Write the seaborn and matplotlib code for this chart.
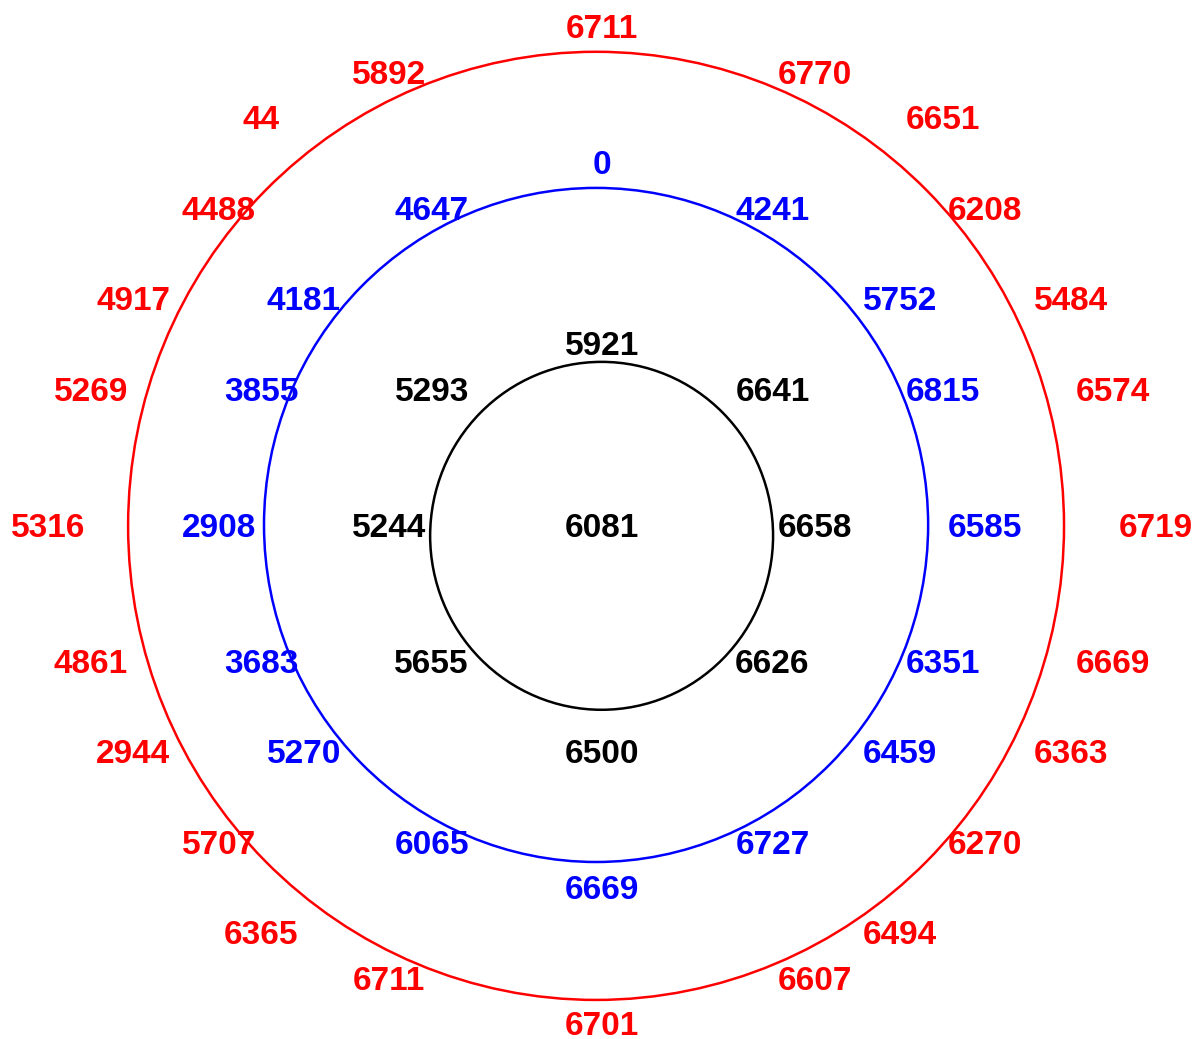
import numpy as np
import pandas as pd
import matplotlib
matplotlib.use('Agg')
import matplotlib.pyplot as plt
from matplotlib.colors import ListedColormap
from matplotlib.patches import Ellipse
import seaborn as sns

# values of each ring, clockwise from the top
center_value = [6081]
inner_values = [5921, 6641, 6658, 6626, 6500, 5655, 5244, 5293]
middle_values = [0, 4241, 5752, 6815, 6585, 6351, 6459, 6727,
                 6669, 6065, 5270, 3683, 2908, 3855, 4181, 4647]
outer_values = [6711, 6770, 6651, 6208, 5484, 6574, 6719, 6669,
                6363, 6270, 6494, 6607, 6701, 6711, 6365, 5707,
                2944, 4861, 5316, 5269, 4917, 4488, 44, 5892]

# grid cells (column, row offset from the middle cell) used for the labels
inner_cols = [0, 4, 5, 4, 0, -4, -5, -4]
inner_rows = [-4, -3, 0, 3, 5, 3, 0, -3]
middle_cols = [0, 4, 7, 8, 9, 8, 7, 4, 0, -4, -7, -8, -9, -8, -7, -4]
middle_rows = [-8, -7, -5, -3, 0, 3, 5, 7, 8, 7, 5, 3, 0, -3, -5, -7]
outer_cols = [0, 5, 8, 9, 11, 12, 13, 12, 11, 9, 7, 5,
              0, -5, -8, -9, -11, -12, -13, -12, -11, -9, -8, -5]
outer_rows = [-11, -10, -9, -7, -5, -3, 0, 3, 5, 7, 9, 10,
              11, 10, 9, 7, 5, 3, 0, -3, -5, -7, -9, -10]

n_rows, n_cols = 23, 27


def ring_grid(values, cols, rows):
    grid = np.full((n_rows, n_cols), np.nan)
    for v, c, r in zip(values, cols, rows):
        grid[r + n_rows // 2, c + n_cols // 2] = v
    return pd.DataFrame(grid)


sns.set_style('white')
plt.rcParams['font.family'] = ['Liberation Sans', 'DejaVu Sans']

fig = plt.figure(figsize=(11.97, 10.39), dpi=100)
ax = fig.add_axes([0.0225, -0.0097, 0.9609, 1.0028])
clear = ListedColormap(['none'])

rings = [
    (center_value + inner_values, [0] + inner_cols, [0] + inner_rows, 'black'),
    (middle_values, middle_cols, middle_rows, '#0000ff'),
    (outer_values, outer_cols, outer_rows, '#ff0000'),
]
for values, cols, rows, color in rings:
    sns.heatmap(ring_grid(values, cols, rows), ax=ax, cmap=clear, cbar=False,
                annot=True, fmt='.0f', xticklabels=False, yticklabels=False,
                annot_kws={'color': color, 'fontsize': 24, 'fontweight': 'bold'})

# ring outlines (centre x, centre y, width, height in grid cells)
outlines = [
    (13.49, 11.67, 8.05, 7.68, 'black'),
    (13.36, 11.43, 15.59, 14.88, '#0000ff'),
    (13.36, 11.45, 21.97, 20.93, '#ff0000'),
]
for x, y, w, h, color in outlines:
    ax.add_patch(Ellipse((x, y), w, h, fill=False, edgecolor=color,
                         linewidth=1.8, clip_on=False))

ax.axis('off')
fig.savefig('out.png', dpi=100)
